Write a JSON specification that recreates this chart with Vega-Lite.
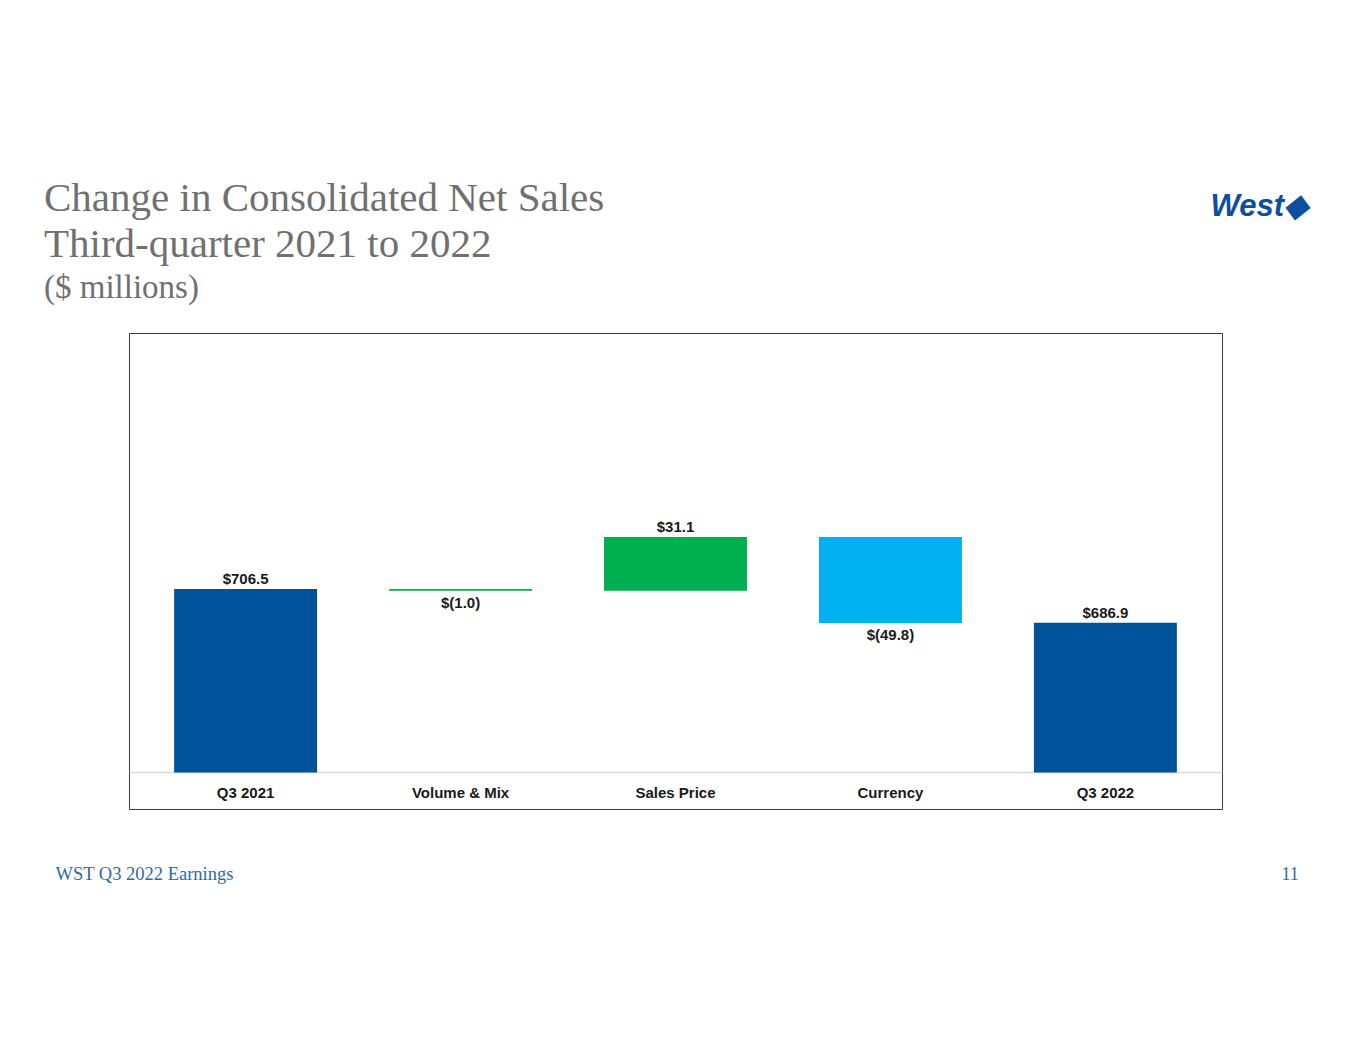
{
  "$schema": "https://vega.github.io/schema/vega-lite/v6.json",
  "description": "Waterfall of West Q3 2021 to Q3 2022 consolidated net sales ($ millions).",
  "width": 1093,
  "height": 476,
  "autosize": "none",
  "padding": {"left": 129, "top": 333, "right": 143, "bottom": 246},
  "background": "white",
  "title": {
    "text": ["Change in Consolidated Net Sales", "Third-quarter 2021 to 2022"],
    "subtitle": "($ millions)",
    "anchor": "start",
    "frame": "group",
    "dx": -85,
    "dy": 146,
    "offset": 30,
    "font": "Liberation Serif",
    "fontSize": 41,
    "fontWeight": "normal",
    "color": "#707070",
    "lineHeight": 46,
    "subtitleFont": "Liberation Serif",
    "subtitleFontSize": 33,
    "subtitleColor": "#707070",
    "subtitlePadding": 6
  },
  "config": {
    "view": {"stroke": "#3a3a3a", "strokeWidth": 1},
    "text": {"font": "Liberation Sans", "fontWeight": "bold", "fontSize": 15, "color": "#1a1a1a"}
  },
  "data": {
    "values": [
      {"category": "Q3 2021", "kind": "Total", "start": null, "end": 706.5, "label": "$706.5"},
      {"category": "Volume & Mix", "kind": "Decrease", "start": 706.5, "end": 705.5, "label": "$(1.0)"},
      {"category": "Sales Price", "kind": "Increase", "start": 705.5, "end": 736.6, "label": "$31.1"},
      {"category": "Currency", "kind": "Decrease", "start": 736.6, "end": 686.8, "label": "$(49.8)"},
      {"category": "Q3 2022", "kind": "Total", "start": null, "end": 686.9, "label": "$686.9"}
    ]
  },
  "encoding": {
    "x": {
      "field": "category",
      "type": "nominal",
      "sort": ["Q3 2021", "Volume & Mix", "Sales Price", "Currency", "Q3 2022"],
      "scale": {"paddingInner": 0.335, "paddingOuter": 0.21},
      "axis": {
        "orient": "bottom",
        "offset": -37,
        "labelAngle": 0,
        "ticks": false,
        "domainColor": "#d9d9d9",
        "domainWidth": 1.5,
        "labelPadding": 13,
        "labelFont": "Liberation Sans",
        "labelFontWeight": "bold",
        "labelFontSize": 15,
        "labelColor": "#1a1a1a",
        "title": "WST Q3 2022 Earnings",
        "titleX": -74,
        "titleY": 107,
        "titleAlign": "left",
        "titleAnchor": null,
        "titleBaseline": "alphabetic",
        "titleFont": "Liberation Serif",
        "titleFontSize": 18.5,
        "titleFontWeight": "normal",
        "titleColor": "#2d6aa3"
      }
    },
    "color": {
      "field": "category",
      "type": "nominal",
      "scale": {
        "domain": ["Q3 2021", "Volume & Mix", "Sales Price", "Currency", "Q3 2022"],
        "range": ["#00529b", "#00b050", "#00b050", "#00b0f0", "#00529b"]
      },
      "legend": null
    }
  },
  "resolve": {"axis": {"y": "independent"}},
  "layer": [
    {
      "transform": [{"filter": "datum.kind == 'Total'"}],
      "mark": {"type": "bar"},
      "encoding": {
        "y": {
          "field": "end",
          "type": "quantitative",
          "scale": {"domain": [578.9, 854.9], "zero": false, "nice": false},
          "axis": {
            "title": "West◆",
            "labels": false,
            "ticks": false,
            "domain": false,
            "grid": false,
            "titleAngle": 0,
            "titleX": 1081,
            "titleY": -118,
            "titleAlign": "left",
            "titleAnchor": null,
            "titleBaseline": "alphabetic",
            "titleFont": "Liberation Sans",
            "titleFontSize": 31,
            "titleFontStyle": "italic",
            "titleFontWeight": "bold",
            "titleColor": "#0d4f9c"
          }
        },
        "y2": {"datum": 600}
      }
    },
    {
      "transform": [{"filter": "datum.kind != 'Total'"}],
      "mark": {"type": "bar"},
      "encoding": {
        "y": {"field": "start", "type": "quantitative", "scale": {"domain": [578.9, 854.9], "zero": false, "nice": false}, "axis": null},
        "y2": {"field": "end"}
      }
    },
    {
      "transform": [{"filter": "datum.kind != 'Decrease'"}],
      "mark": {"type": "text", "baseline": "alphabetic", "dy": -5},
      "encoding": {
        "y": {
          "field": "end",
          "type": "quantitative",
          "scale": {"domain": [578.9, 854.9], "zero": false, "nice": false},
          "axis": {
            "orient": "right",
            "title": "11",
            "labels": false,
            "ticks": false,
            "domain": false,
            "grid": false,
            "titleAngle": 0,
            "titleX": 59,
            "titleY": 546,
            "titleAlign": "left",
            "titleAnchor": null,
            "titleBaseline": "alphabetic",
            "titleFont": "Liberation Serif",
            "titleFontSize": 18,
            "titleFontWeight": "normal",
            "titleColor": "#2d6aa3"
          }
        },
        "text": {"field": "label"},
        "color": {"value": "#1a1a1a"}
      }
    },
    {
      "transform": [{"filter": "datum.kind == 'Decrease'"}],
      "mark": {"type": "text", "baseline": "alphabetic", "dy": 17},
      "encoding": {
        "y": {"field": "end", "type": "quantitative", "scale": {"domain": [578.9, 854.9], "zero": false, "nice": false}, "axis": null},
        "text": {"field": "label"},
        "color": {"value": "#1a1a1a"}
      }
    }
  ]
}
